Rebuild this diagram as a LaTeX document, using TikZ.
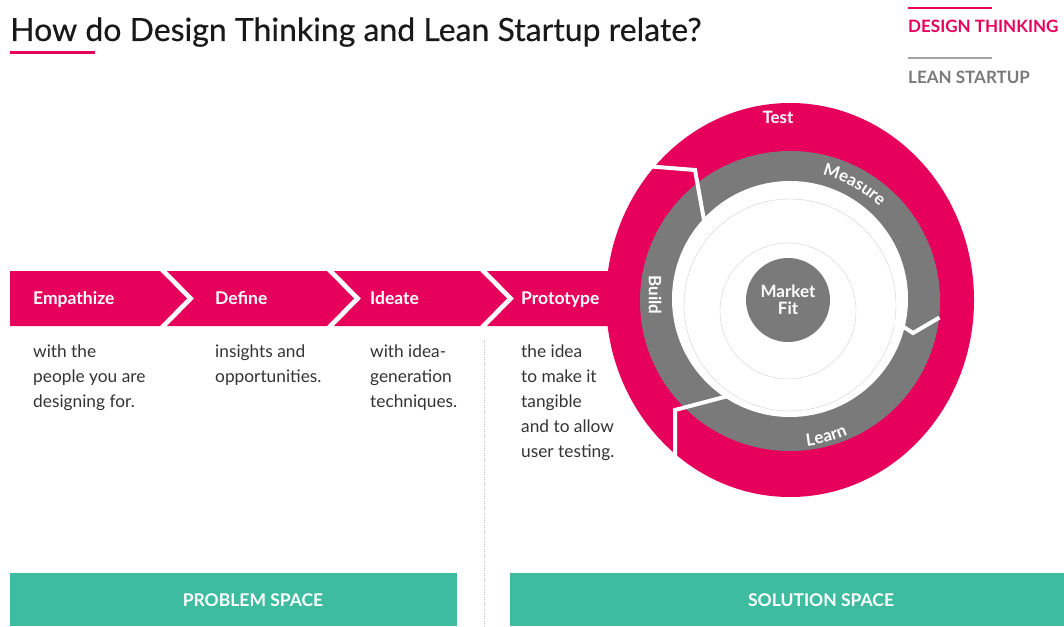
\documentclass[tikz,border=0pt]{standalone}
\usepackage{fontspec}
\setmainfont{Lato}
\newfontfamily\headfont[FakeBold=0.4]{Lato}
\usetikzlibrary{decorations.text}
\definecolor{dtpink}{HTML}{E6005C}
\definecolor{lsgray}{HTML}{7A7A7A}
\definecolor{spaceteal}{HTML}{3DBCA0}
\definecolor{bodytext}{HTML}{333333}

\tikzset{
  heading/.style={anchor=base west, inner sep=0, text=black!90, font=\headfont\fontsize{32}{36}\selectfont},
  keylabel/.style={anchor=base west, inner sep=0, font=\bfseries\fontsize{17}{20}\selectfont},
  steplabel/.style={anchor=base west, inner sep=0, text=white, font=\bfseries\fontsize{17.5}{20}\selectfont},
  desc/.style={anchor=north west, inner sep=0, align=left, text=bodytext, font=\fontsize{17.3}{25}\selectfont},
  ringlabel/.style={inner sep=0, text=white, font=\bfseries\fontsize{17}{19}\selectfont},
  arclabel/.style={decorate, decoration={text along path, text align=center, text color=white, text={|\bfseries\fontsize{17}{19}\selectfont|#1}}},
  cut/.style={white, line width=4pt, line join=miter},
  spacebox/.style={anchor=north west, fill=spaceteal, minimum height=53pt, inner sep=0},
  spacelabel/.style={inner sep=0, text=white, font=\bfseries\fontsize{17.5}{20}\selectfont}
}

\begin{document}
\begin{tikzpicture}[x=1pt,y=-1pt]
\useasboundingbox (0,0) rectangle (1064,626);

% title and key
\node[heading] (title) at (10,41) {How do Design Thinking and Lean Startup relate?};
\draw[dtpink, line width=3pt] (10,53) -- (95,53);

\draw[dtpink, line width=2.5pt] (908,8) -- (992,8);
\node[keylabel, text=dtpink] (dtkey) at (908,33) {DESIGN THINKING};
\draw[lsgray!70, line width=2.5pt] (908,58) -- (992,58);
\node[keylabel, text=lsgray] (lskey) at (908,83) {LEAN STARTUP};

% outer ring (test) and the step arrows
\fill[dtpink] (790,300) ellipse [x radius=184pt, y radius=197pt];

\fill[dtpink] (10,271) -- (160,271) -- (187,298.5) -- (160,326) -- (10,326) -- cycle;
\fill[dtpink] (167,271) -- (327,271) -- (354,298.5) -- (327,326) -- (167,326) -- (194,298.5) -- cycle;
\fill[dtpink] (334,271) -- (480,271) -- (507,298.5) -- (480,326) -- (334,326) -- (361,298.5) -- cycle;
\fill[dtpink] (487,271) -- (700,271) -- (700,326) -- (487,326) -- (514,298.5) -- cycle;

% lean startup loop
\fill[lsgray] (790,301) circle [radius=150pt];
\fill[white] (790,299) circle [radius=118pt];
\draw[black!18] (790,305) circle [radius=106pt];
\draw[black!18] (788,311) circle [radius=68pt];

\draw[cut] (645,166) -- (695,170) -- (704,220);
\draw[cut] (893,320) -- (913,333) -- (939.5,317.5);
\draw[cut] (675,465) -- (675,410) -- (728,396);

\node[circle, fill=lsgray, minimum size=84pt, align=center, ringlabel] (fit) at (788,300) {Market\\[-2pt]Fit};
\node[ringlabel] (test) at (778,117) {Test};
\node[ringlabel, rotate=-90] (build) at (655,295) {Build};
\path[arclabel=Measure] (790,301) ++(90:130pt) arc [start angle=90, end angle=32, radius=130pt];
\path[arclabel=Learn] (790,301) ++(-100:146pt) arc [start angle=-100, end angle=-50, radius=146pt];

% steps
\node[steplabel] (empathize) at (33,304) {Empathize};
\node[steplabel] (define) at (215,304) {Define};
\node[steplabel] (ideate) at (370,304) {Ideate};
\node[steplabel] (prototype) at (521,304) {Prototype};

\node[desc] (empathizetext) at (33,345) {with the\\people you are\\designing for.};
\node[desc] (definetext) at (215,345) {insights and\\opportunities.};
\node[desc] (ideatetext) at (370,345) {with idea-\\generation\\techniques.};
\node[desc] (prototypetext) at (521,345) {the idea\\to make it\\tangible\\and to allow\\user testing.};

% spaces
\draw[black!25, dotted] (484,340) -- (484,626);
\node[spacebox, minimum width=447pt] (problem) at (10,573) {};
\node[spacebox, minimum width=554pt] (solution) at (510,573) {};
\node[spacelabel] (problemtext) at (253,600) {PROBLEM SPACE};
\node[spacelabel] (solutiontext) at (821,600) {SOLUTION SPACE};

\end{tikzpicture}
\end{document}
